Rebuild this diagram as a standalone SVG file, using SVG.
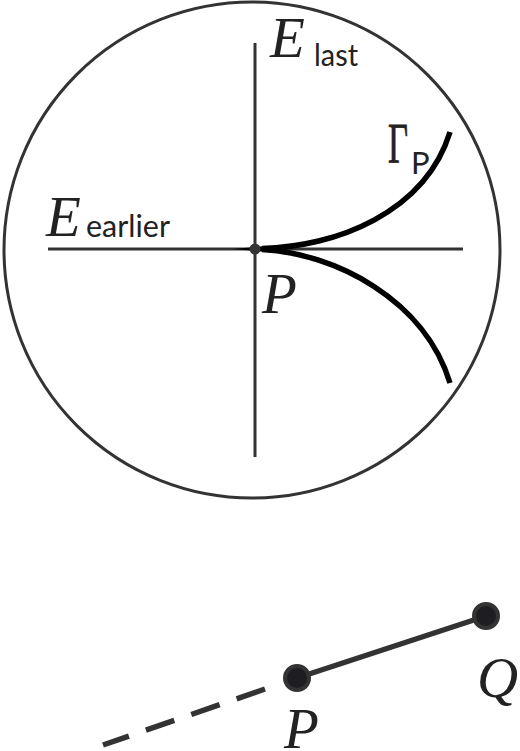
<svg xmlns="http://www.w3.org/2000/svg" width="520" height="751" viewBox="0 0 520 751">
<style>
.thin{fill:none;stroke:#333;stroke-width:3}
.curve{fill:none;stroke:#000;stroke-width:5.5;stroke-linecap:butt}
.seg{fill:none;stroke:#333;stroke-width:5.5}
.it{font-family:"Liberation Serif",serif;font-style:italic;font-size:57px;fill:#222}
.sub{font-family:"Lato","Liberation Sans",sans-serif;font-size:31px;fill:#222}
.dot{fill:#1e1e22;stroke:#333;stroke-width:4}
</style>
<rect width="520" height="751" fill="#fff"/>
<g id="disk">
<circle class="thin" cx="252" cy="250" r="248"/>
</g>
<g id="connectors">
<line class="thin" x1="48" y1="249" x2="463" y2="249"/>
<line class="thin" x1="255" y1="43" x2="255" y2="457"/>
<polygon points="233,249 266,246 266,252" fill="#000"/>
<path class="curve" d="M262 248.4 C335 247 425 213 450 132"/>
<path class="curve" d="M262 249.6 C335 253 425 300 450 383"/>
<line class="seg" x1="297" y1="678" x2="486" y2="616"/>
<line class="seg" x1="265" y1="689" x2="103" y2="745" stroke-dasharray="30 18"/>
</g>
<g id="origin">
<circle cx="255" cy="249" r="5.5" fill="#333"/>
<text class="it" x="262" y="313">P</text>
</g>
<g id="E-last">
<text class="it" x="270" y="57">E</text>
<text class="sub" x="314" y="66" textLength="44" lengthAdjust="spacingAndGlyphs">last</text>
</g>
<g id="E-earlier">
<text class="it" x="46" y="236">E</text>
<text class="sub" x="86" y="237" textLength="84" lengthAdjust="spacingAndGlyphs">earlier</text>
</g>
<g id="Gamma-P">
<text x="388" y="163" font-family="Liberation Serif,serif" font-size="58" fill="#222" stroke="#222" stroke-width="0.8" textLength="20" lengthAdjust="spacingAndGlyphs">Γ</text>
<text class="sub" x="411" y="174">P</text>
</g>
<g id="node-P">
<circle class="dot" cx="297" cy="678" r="12"/>
<text class="it" x="284" y="748">P</text>
</g>
<g id="node-Q">
<circle class="dot" cx="486" cy="616" r="12"/>
<text class="it" x="477" y="697">Q</text>
</g>
</svg>
